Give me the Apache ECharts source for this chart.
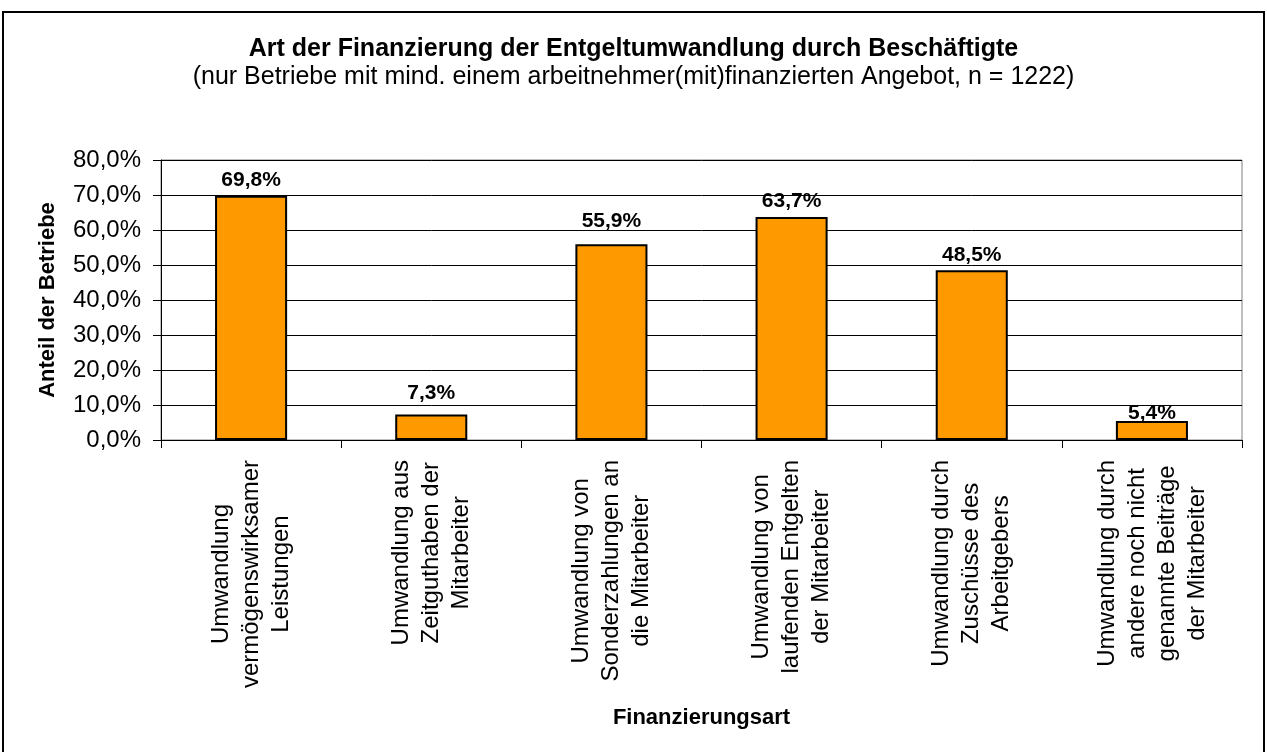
<!DOCTYPE html>
<html lang="de">
<head>
<meta charset="utf-8">
<title>Art der Finanzierung der Entgeltumwandlung</title>
<script src="https://cdn.jsdelivr.net/npm/echarts@6/dist/echarts.min.js"></script>
<style>
    html, body {
        margin: 0;
        padding: 0;
        background: #ffffff;
    }
    #chart {
        width: 1267px;
        height: 752px;
    }
</style>
</head>
<body>
<div id="chart"></div>
<script>
// Kategorien (Zeilenumbrüche wie im Original)
const categories = [
    'Umwandlung\nvermögenswirksamer\nLeistungen',
    'Umwandlung aus\nZeitguthaben der\nMitarbeiter',
    'Umwandlung von\nSonderzahlungen an\ndie Mitarbeiter',
    'Umwandlung von\nlaufenden Entgelten\nder Mitarbeiter',
    'Umwandlung durch\nZuschüsse des\nArbeitgebers',
    'Umwandlung durch\nandere noch nicht\ngenannte Beiträge\nder Mitarbeiter'
];
// Anteil der Betriebe in %
const shares = [69.8, 7.3, 55.9, 63.7, 48.5, 5.4];
const yTicks = [0, 10, 20, 30, 40, 50, 60, 70, 80];

// kleine Verschiebung der Datenbeschriftungen (wie im Excel-Original)
const labelNudge = [0, -6, -8, 0, 0, 8];

const FONT = "'Liberation Sans', Arial, sans-serif";

function pct(v) {
    return v.toFixed(1).replace('.', ',') + '%';
}

const chart = echarts.init(document.getElementById('chart'));

const option = {
    backgroundColor: '#ffffff',
    animation: false,
    title: {
        text: 'Art der Finanzierung der Entgeltumwandlung durch Beschäftigte',
        subtext: '(nur Betriebe mit mind. einem arbeitnehmer(mit)finanzierten Angebot, n = 1222)',
        left: 'center',
        top: 32,
        itemGap: 3,
        textStyle: {
            fontFamily: FONT,
            fontSize: 25,
            fontWeight: 'bold',
            color: '#000'
        },
        subtextStyle: {
            fontFamily: FONT,
            fontSize: 25,
            color: '#000'
        }
    },
    // Rahmen um das ganze Diagramm
    graphic: [
        {
            type: 'rect',
            shape: { x: 3, y: 12, width: 1261, height: 760 },
            style: { fill: 'none', stroke: '#000', lineWidth: 2 },
            silent: true
        }
    ],
    grid: {
        left: 161,
        right: 25,
        top: 160,
        bottom: 312,
        show: true,
        borderColor: '#808080',
        borderWidth: 1
    },
    xAxis: {
        type: 'category',
        data: categories,
        name: 'Finanzierungsart',
        nameLocation: 'middle',
        nameGap: 267,
        nameTextStyle: {
            fontFamily: FONT,
            fontSize: 22,
            fontWeight: 'bold',
            color: '#000'
        },
        axisLine: { lineStyle: { color: '#000', width: 1 } },
        axisTick: { show: true, length: 8, alignWithLabel: false, lineStyle: { color: '#000' } },
        axisLabel: {
            interval: 0,
            rotate: 90,
            margin: 20,
            color: '#000',
            fontFamily: FONT,
            fontSize: 24,
            lineHeight: 30,
            formatter: function (value) {
                return value.split('\n').map(function (l) { return '{c|' + l + '}'; }).join('\n');
            },
            rich: {
                c: {
                    align: 'center',
                    fontFamily: FONT,
                    fontSize: 24,
                    lineHeight: 30,
                    color: '#000'
                }
            }
        },
        splitLine: { show: false }
    },
    yAxis: {
        type: 'value',
        min: yTicks[0],
        max: yTicks[yTicks.length - 1],
        interval: yTicks[1] - yTicks[0],
        name: 'Anteil der Betriebe',
        nameLocation: 'middle',
        nameRotate: 90,
        nameGap: 102,
        nameTextStyle: {
            fontFamily: FONT,
            fontSize: 22,
            fontWeight: 'bold',
            color: '#000'
        },
        axisLine: { show: true, lineStyle: { color: '#000', width: 1 } },
        axisTick: { show: true, length: 8, lineStyle: { color: '#000' } },
        axisLabel: {
            margin: 20,
            color: '#000',
            fontFamily: FONT,
            fontSize: 24,
            formatter: function (v) { return pct(v); }
        },
        splitLine: { show: true, lineStyle: { color: '#000', width: 1 } }
    },
    series: [
        {
            type: 'bar',
            data: shares.map(function (v, i) {
                return { value: v, label: { offset: [0, labelNudge[i]] } };
            }),
            barWidth: '40%',
            itemStyle: {
                color: '#FF9900',
                borderColor: '#000',
                borderWidth: 2
            },
            label: {
                show: true,
                position: 'top',
                distance: 5,
                color: '#000',
                fontFamily: FONT,
                fontSize: 21,
                fontWeight: 'bold',
                formatter: function (p) { return pct(p.value); }
            }
        }
    ]
};

chart.setOption(option);
window.onresize = function () {
    chart.resize();
};
</script>
</body>
</html>
